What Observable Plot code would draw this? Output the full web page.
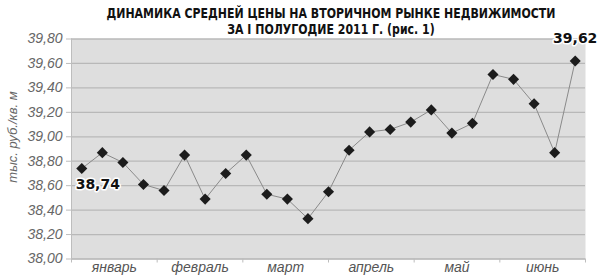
<!DOCTYPE html>
<html><head><meta charset="utf-8">
<script src="https://cdn.jsdelivr.net/npm/d3@7"></script>
<script src="https://cdn.jsdelivr.net/npm/@observablehq/plot@0.6"></script>
<style>
body{margin:0;background:#fff;}
#wrap{position:relative;width:600px;height:277px;}
#title{position:absolute;top:5px;left:31px;width:600px;text-align:center;font-family:"DejaVu Sans Condensed","Liberation Sans Narrow",sans-serif;font-weight:bold;font-size:14px;line-height:16px;color:#111;transform:scaleX(0.87);transform-origin:center;white-space:nowrap;}
</style></head><body>
<div id="wrap"><div id="title">ДИНАМИКА СРЕДНЕЙ ЦЕНЫ НА ВТОРИЧНОМ РЫНКЕ НЕДВИЖИМОСТИ<br>ЗА I ПОЛУГОДИЕ 2011 Г. (рис. 1)</div></div>
<script>
const months = ["январь","февраль","март","апрель","май","июнь"];
const prices = [38.74,38.87,38.79,38.61,38.56,38.85,38.49,38.70,38.85,38.53,38.49,38.33,38.55,38.89,39.04,39.06,39.12,39.22,39.03,39.11,39.51,39.47,39.27,38.87,39.62];
const yTicks = [38.0,38.2,38.4,38.6,38.8,39.0,39.2,39.4,39.6,39.8];
const yLabel = "тыс. руб./кв. м";

const n = prices.length;
const pts = prices.map((v, i) => ({x: i + 0.5, y: v}));
const bounds = months.map((m, i) => i * n / months.length).concat([n]);
const monthPts = months.map((m, i) => ({x: (i + 0.5) * n / months.length, m}));
const fmt = v => d3.format(".2f")(v).replace(".", ",");
const firstLast = [pts[0], pts[n - 1]];

const chart = Plot.plot({
  width: 600, height: 277,
  marginTop: 38.5, marginBottom: 18.5, marginLeft: 71, marginRight: 15,
  style: {fontFamily: "'Liberation Sans', Arial, sans-serif", background: "transparent"},
  x: {domain: [0, n], axis: null},
  y: {domain: [38, 39.8], axis: null},
  marks: [
    Plot.frame({fill: "#dedede", stroke: null}),
    Plot.gridY(yTicks, {stroke: "#b8b8b8", strokeOpacity: 1, strokeWidth: 1.3}),
    Plot.ruleX([0], {stroke: "#bdbdbd"}),
    Plot.ruleY([38], {stroke: "#bdbdbd"}),
    Plot.axisY(yTicks, {label: null, tickSize: 5, tickPadding: 4, tickFormat: fmt, stroke: "#bdbdbd", fill: "#666", fontStyle: "italic", fontSize: 14}),
    Plot.axisX(bounds, {label: null, tickSize: 4, tickFormat: () => "", stroke: "#bdbdbd"}),
    Plot.text(monthPts, {x: "x", text: "m", frameAnchor: "bottom", dy: 13, fill: "#555", fontStyle: "italic", fontSize: 14}),
    Plot.text([yLabel], {frameAnchor: "left", textAnchor: "middle", rotate: -90, dx: -59, dy: -12, fill: "#666", fontStyle: "italic", fontSize: 13}),
    Plot.line(pts, {x: "x", y: "y", stroke: "#8a8a8a", strokeWidth: 1}),
    Plot.dot(pts, {x: "x", y: "y", symbol: "diamond2", r: 5, fill: "#1c1c1c", stroke: null}),
    Plot.text([firstLast[0]], {x: "x", y: "y", text: d => fmt(d.y), dx: 16, dy: 16, fontWeight: "bold", fontSize: 14, fontFamily: "'DejaVu Sans', sans-serif", fill: "#111", stroke: "white", strokeWidth: 3}),
    Plot.text([firstLast[1]], {x: "x", y: "y", text: d => fmt(d.y), dx: 0, dy: -22, fontWeight: "bold", fontSize: 14, fontFamily: "'DejaVu Sans', sans-serif", fill: "#111", stroke: "white", strokeWidth: 3})
  ]
});
document.getElementById("wrap").prepend(chart);
</script>
</body></html>
